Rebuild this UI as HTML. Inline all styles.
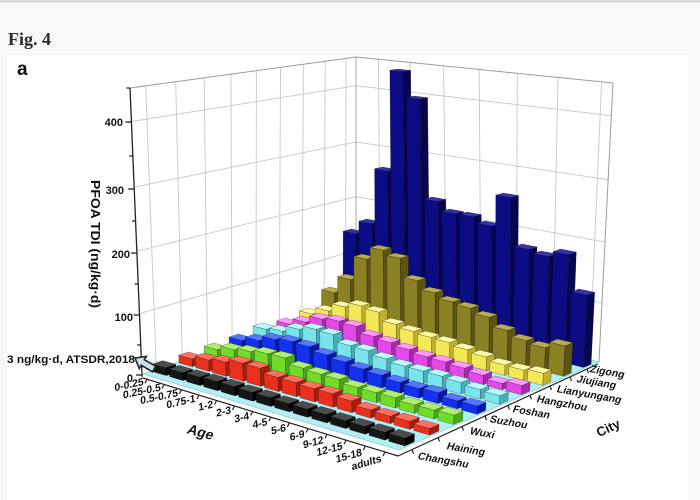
<!DOCTYPE html>
<html>
<head>
<meta charset="utf-8">
<style>
  html,body{margin:0;padding:0;background:#f8f8f8;}
  svg{display:block;}
</style>
</head>
<body>
<svg id="s" xmlns="http://www.w3.org/2000/svg" width="700" height="500" viewBox="0 0 700 500" font-family="'Liberation Sans', Arial, sans-serif">
  <rect width="700" height="500" fill="#f8f8f8"/>
  <rect width="700" height="2.5" fill="#d6d6d6"/>
  <rect x="7" y="55" width="681" height="445" fill="#ffffff"/>
  <text x="8" y="45" font-family="'Liberation Serif', serif" font-weight="bold" font-size="18" fill="#2a2a2a">Fig. 4</text>
  <text x="17" y="75" font-weight="bold" font-size="19" fill="#111">a</text>

  <g id="walls"></g>
  <g id="floor"></g>
  <g id="bars"></g>

  <!-- Z axis -->
  <g stroke="#222" stroke-width="1.3" fill="none">
    <line x1="142.1" y1="377" x2="130" y2="88"/>
    <line x1="142" y1="375" x2="136" y2="375"/>
    <line x1="140.7" y1="345" x2="137.2" y2="345"/>
    <line x1="139.5" y1="315" x2="133.5" y2="315"/>
    <line x1="138.2" y1="284" x2="134.7" y2="284"/>
    <line x1="136.9" y1="253" x2="130.9" y2="253"/>
    <line x1="135.5" y1="221" x2="132" y2="221"/>
    <line x1="134.2" y1="189" x2="128.2" y2="189"/>
    <line x1="132.8" y1="156" x2="129.3" y2="156"/>
    <line x1="131.4" y1="122" x2="125.4" y2="122"/>
    <line x1="130" y1="88" x2="126.5" y2="88"/>
  </g>
  <g font-weight="bold" font-size="11" fill="#111" text-anchor="end">
    <text x="123" y="126">400</text>
    <text x="124" y="194">300</text>
    <text x="130" y="258">200</text>
    <text x="133" y="321">100</text>
    <text x="133" y="382">0</text>
  </g>
  <text transform="translate(91,244) rotate(90)" text-anchor="middle" font-weight="bold" font-size="12.5" fill="#111" textLength="128" lengthAdjust="spacingAndGlyphs">PFOA TDI (ng/kg·d)</text>

  <!-- Age axis -->
  <g stroke="#222" stroke-width="1.2" fill="none">
    <line x1="143" y1="378" x2="398" y2="456"/>
    <line x1="147" y1="379.2" x2="145" y2="383.2"/>
    <line x1="164.1" y1="384.5" x2="162.1" y2="388.5"/>
    <line x1="181.4" y1="389.8" x2="179.4" y2="393.8"/>
    <line x1="198.9" y1="395.1" x2="196.9" y2="399.1"/>
    <line x1="216.6" y1="400.5" x2="214.6" y2="404.5"/>
    <line x1="234.5" y1="406" x2="232.5" y2="410"/>
    <line x1="252.6" y1="411.5" x2="250.6" y2="415.5"/>
    <line x1="270.9" y1="417.1" x2="268.9" y2="421.1"/>
    <line x1="289.4" y1="422.8" x2="287.4" y2="426.8"/>
    <line x1="308.1" y1="428.5" x2="306.1" y2="432.5"/>
    <line x1="327" y1="434.3" x2="325" y2="438.3"/>
    <line x1="346.1" y1="440.1" x2="344.1" y2="444.1"/>
    <line x1="365.4" y1="446.1" x2="363.4" y2="450.1"/>
    <line x1="385" y1="452" x2="383" y2="456"/>
  </g>
  <g font-weight="bold" font-size="10.5" fill="#111" text-anchor="end">
    <text transform="translate(143.7,385) rotate(-12) skewX(-10)">0-0.25</text>
    <text transform="translate(160.8,390.6) rotate(-12) skewX(-10)">0.25-0.5</text>
    <text transform="translate(178.1,396.2) rotate(-12) skewX(-10)">0.5-0.75</text>
    <text transform="translate(195.6,401.8) rotate(-13) skewX(-10)">0.75-1</text>
    <text transform="translate(213.3,407.5) rotate(-13) skewX(-10)">1-2</text>
    <text transform="translate(231.2,413.3) rotate(-13) skewX(-10)">2-3</text>
    <text transform="translate(249.3,419.1) rotate(-14) skewX(-10)">3-4</text>
    <text transform="translate(267.6,425) rotate(-14) skewX(-10)">4-5</text>
    <text transform="translate(286.1,431) rotate(-14) skewX(-10)">5-6</text>
    <text transform="translate(304.8,437) rotate(-15) skewX(-10)">6-9</text>
    <text transform="translate(323.7,443.1) rotate(-15) skewX(-10)">9-12</text>
    <text transform="translate(342.8,449.2) rotate(-15) skewX(-10)">12-15</text>
    <text transform="translate(362.1,455.5) rotate(-16) skewX(-10)">15-18</text>
    <text transform="translate(381.7,461.7) rotate(-16) skewX(-10)">adults</text>
  </g>
  <text transform="translate(186,433) rotate(15) skewX(-10)" font-weight="bold" font-size="14" fill="#111">Age</text>

  <!-- City axis -->
  <g stroke="#222" stroke-width="1.2" fill="none">
    <line x1="398" y1="456" x2="598" y2="364"/>
    <line x1="412" y1="449.6" x2="413.5" y2="453.6"/>
    <line x1="438" y1="437.6" x2="439.5" y2="441.6"/>
    <line x1="462" y1="426.6" x2="463.5" y2="430.6"/>
    <line x1="485" y1="416" x2="486.5" y2="420"/>
    <line x1="508" y1="405.4" x2="509.5" y2="409.4"/>
    <line x1="530" y1="395.3" x2="531.5" y2="399.3"/>
    <line x1="550" y1="386.1" x2="551.5" y2="390.1"/>
    <line x1="570" y1="376.9" x2="571.5" y2="380.9"/>
    <line x1="587" y1="369.1" x2="588.5" y2="373.1"/>
  </g>
  <g font-weight="bold" font-size="10.5" fill="#111">
    <text transform="translate(417,459) rotate(10) skewX(-10)">Changshu</text>
    <text transform="translate(446,449) rotate(10) skewX(-10)">Haining</text>
    <text transform="translate(469,434) rotate(10) skewX(-10)">Wuxi</text>
    <text transform="translate(489,422) rotate(10) skewX(-10)">Suzhou</text>
    <text transform="translate(512,412) rotate(10) skewX(-10)">Foshan</text>
    <text transform="translate(536,402) rotate(10) skewX(-10)">Hangzhou</text>
    <text transform="translate(556,392) rotate(10) skewX(-10)">Lianyungang</text>
    <text transform="translate(576,382) rotate(10) skewX(-10)">Jiujiang</text>
    <text transform="translate(589,372) rotate(10) skewX(-10)">Zigong</text>
  </g>
  <text transform="translate(610,432) rotate(-25)" text-anchor="middle" font-weight="bold" font-size="13" fill="#111">City</text>

  <!-- ATSDR annotation -->
  <text x="7" y="363" font-weight="bold" font-size="11" fill="#111" textLength="128" lengthAdjust="spacingAndGlyphs">3 ng/kg·d, ATSDR,2018</text>
  <polygon points="0,0 9,-7 9,-3.2 22,-3.2 22,3.2 9,3.2 9,7" transform="translate(135,358) rotate(30)" fill="#cfe0e4" stroke="#1a2a30" stroke-width="1.6" stroke-linejoin="miter"/>

<script>
(function(){
var NS='http://www.w3.org/2000/svg';
function H(p0,p1,p2,p3){
  var x0=p0[0],y0=p0[1],x1=p1[0],y1=p1[1],x2=p2[0],y2=p2[1],x3=p3[0],y3=p3[1];
  var dx1=x1-x2,dx2=x3-x2,dx3=x0-x1+x2-x3,dy1=y1-y2,dy2=y3-y2,dy3=y0-y1+y2-y3;
  var den=dx1*dy2-dx2*dy1;
  var g=(dx3*dy2-dx2*dy3)/den,h=(dx1*dy3-dx3*dy1)/den;
  var a=x1-x0+g*x1,b=x3-x0+h*x3,c=x0,d=y1-y0+g*y1,e=y3-y0+h*y3,f=y0;
  return function(u,v){var w=g*u+h*v+1;return [(a*u+b*v+c)/w,(d*u+e*v+f)/w];};
}
var Hf=H([143,374],[399,450],[599,362],[356,302]);
var Ht=H([130,88],[402,134],[613,83],[356,57]);
function fz(t){return 0.94*t+0.06*t*t;}
function finv(F){return (-0.94+Math.sqrt(0.8836+0.24*F))/0.12;}
function P(u,v,z){var a=Hf(u,v),b=Ht(u,v),t=fz(z/450);return [a[0]+(b[0]-a[0])*t,a[1]+(b[1]-a[1])*t];}
function el(tag,attrs,parent){var e=document.createElementNS(NS,tag);for(var k in attrs)e.setAttribute(k,attrs[k]);parent.appendChild(e);return e;}
function pts(arr){return arr.map(function(p){return p[0].toFixed(1)+','+p[1].toFixed(1);}).join(' ');}
function ln(g,a,b,col,w){el('line',{x1:a[0].toFixed(1),y1:a[1].toFixed(1),x2:b[0].toFixed(1),y2:b[1].toFixed(1),stroke:col,'stroke-width':w},g);}

var gw=document.getElementById('walls');
var gc='#c8c8c8';
[100,200,300,400].forEach(function(z){
  ln(gw,P(0,0,z),P(0,1,z),gc,0.9);
  ln(gw,P(0,1,z),P(1,1,z),gc,0.9);
});
for(var j=0;j<9;j++){var v=(j+0.5)/9;ln(gw,P(0,v,0),P(0,v,450),gc,0.9);}
[1,3,5,7,9,11,13].forEach(function(i){var u=(i+0.5)/14;ln(gw,P(u,1,0),P(u,1,450),gc,0.9);});
el('polyline',{points:pts([P(0,0,450),P(0,1,450),P(1,1,450)]),fill:'none',stroke:'#9a9a9a','stroke-width':1},gw);
ln(gw,P(0,1,0),P(0,1,450),'#a8a8a8',1);
ln(gw,P(1,1,0),P(1,1,450),'#9a9a9a',1);

var gf=document.getElementById('floor');
el('polygon',{points:pts([P(0,0,0),P(1,0,0),P(1,1,0),P(0,1,0)]),fill:'#b2eff5',stroke:'#8fcdd6','stroke-width':0.8},gf);

var cols=[
 ['#151515','#000000','#4c4c4c'],
 ['#e8301c','#a81c10','#ff7060'],
 ['#72dc2a','#4aa81a','#b0f070'],
 ['#1430f0','#0818a8','#5575ff'],
 ['#78e4ec','#48b0bc','#b8fcff'],
 ['#e448e8','#a828ac','#ff98ff'],
 ['#f4e858','#c0b030','#fffaa8'],
 ['#8c8024','#5c5414','#b8ac50'],
 ['#0c0c84','#060650','#3434a8']
];
var blackZ=[13,13,14,15,15,14,14,13,13,13,12,12,12,12];
var tops=[
 null,
 [352,353,355,356,361,370,375,381,386,393,402,408,413,420],
 [343,343,345,347,351,361,367,372,380,385,390,397,402,407],
 [334,334,333,335,340,348,355,362,368,375,381,385,393,398],
 [323,325,323,323,328,339,344,352,359,364,369,375,382,388],
 [318,316,313,315,320,330,336,343,350,355,361,368,376,378],
 [308,305,301,300,306,318,325,331,336,343,350,358,363,366],
 [287,274,254,245,253,275,287,296,302,311,324,334,341,339],
 [229,219,167,69,96,197,209,212,221,193,244,251,249,289]
];
var gb=document.getElementById('bars');
var hu=0.8/14/2, hv=0.38/9/2;
var sc='rgba(0,0,0,0.45)';
for(var j=8;j>=0;j--){
  for(var i=0;i<14;i++){
    var cu=(i+0.5)/14, cv=(j+0.5)/9;
    var u0=cu-hu,u1=cu+hu,v0=cv-hv,v1=cv+hv;
    var z;
    if(j===0){z=blackZ[i];}
    else{
      var yf=Hf(u0,v1)[1], yt=Ht(u0,v1)[1], ym=tops[j][i];
      var F=(yf-ym)/(yf-yt); if(F<0)F=0;
      z=finv(F)*450; if(z<8)z=8;
    }
    var c=cols[j];
    el('polygon',{points:pts([P(u0,v0,0),P(u1,v0,0),P(u1,v0,z),P(u0,v0,z)]),fill:c[0],stroke:sc,'stroke-width':0.5},gb);
    el('polygon',{points:pts([P(u1,v0,0),P(u1,v1,0),P(u1,v1,z),P(u1,v0,z)]),fill:c[1],stroke:sc,'stroke-width':0.5},gb);
    el('polygon',{points:pts([P(u0,v0,z),P(u1,v0,z),P(u1,v1,z),P(u0,v1,z)]),fill:c[2],stroke:sc,'stroke-width':0.5},gb);
  }
}
})();
</script>
</svg>
</body>
</html>
